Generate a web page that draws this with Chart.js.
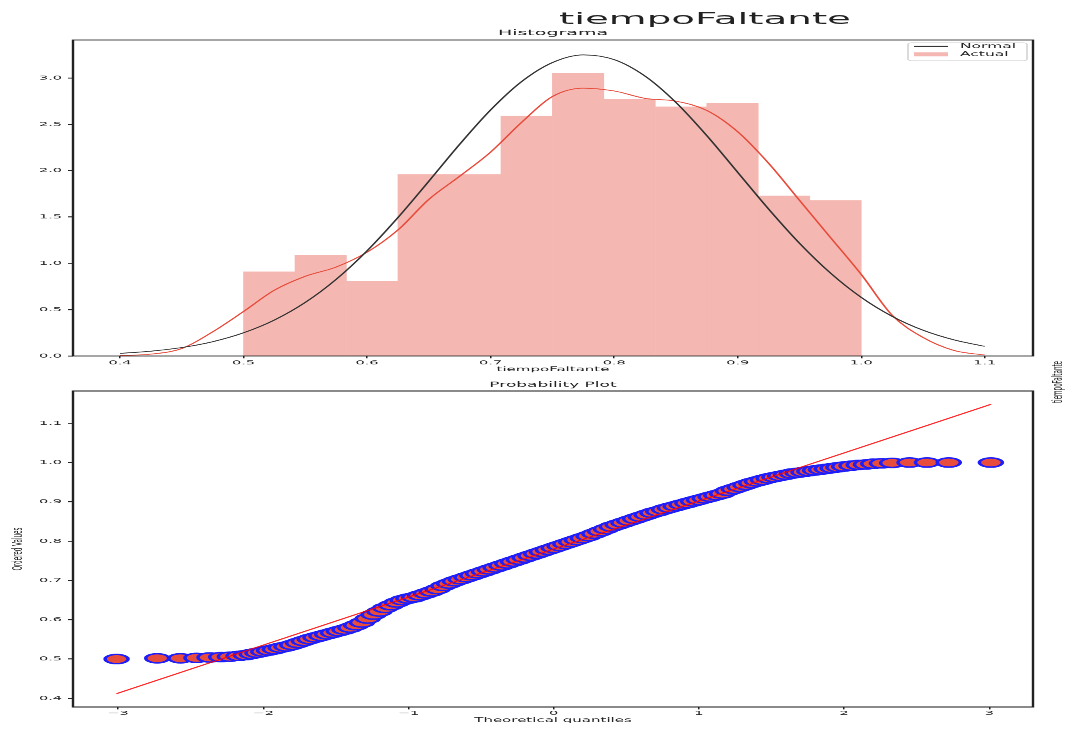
<!DOCTYPE html>
<html lang="es">
<head>
<meta charset="utf-8">
<title>tiempoFaltante</title>
<script src="https://cdn.jsdelivr.net/npm/chart.js@4.4.0/dist/chart.umd.min.js"></script>
<style>
    html, body { margin: 0; padding: 0; background: #fff; overflow: hidden; }
    /* figure is laid out tall and then squashed into the 729px window */
    #figure { position: absolute; left: 0; top: 0; width: 1067px; height: 1823px; transform: scaleY(0.4); transform-origin: 0 0; }
    #figure canvas { position: absolute; left: 0; }
    #hist { top: 0; }
    #qq { top: 950px; }
    .label { position: absolute; font-family: 'DejaVu Sans', sans-serif; color: #222; white-space: nowrap; }
    #suptitle { left: 559px; top: 27px; font-size: 38.8px; line-height: 38px; }
    #sideLabel { left: 992px; top: 946px; width: 130px; height: 18px; line-height: 18px; font-size: 14px; text-align: center; transform: rotate(-90deg); }
</style>
</head>
<body>
<div id="figure">
    <canvas id="hist" width="1067" height="950"></canvas>
    <canvas id="qq" width="1067" height="873"></canvas>
    <div id="suptitle" class="label">tiempoFaltante</div>
    <div id="sideLabel" class="label">tiempoFaltante</div>
</div>
<script>
// Histogram bins (centres of 12 bins from 0.5 to 1.0) and densities
const binCenters = [0.5208, 0.5625, 0.6042, 0.6458, 0.6875, 0.7292, 0.7708, 0.8125, 0.8542, 0.8958, 0.9375, 0.9792];
const binHeights = [0.91, 1.09, 0.81, 1.96, 1.96, 2.59, 3.05, 2.77, 2.69, 2.73, 1.73, 1.68];

// Curves over the histogram
const curveX = [0.400, 0.425, 0.450, 0.475, 0.500, 0.525, 0.550, 0.575, 0.600, 0.625, 0.650, 0.675, 0.700, 0.725, 0.750,
    0.775, 0.800, 0.825, 0.850, 0.875, 0.900, 0.925, 0.950, 0.975, 1.000, 1.025, 1.050, 1.075, 1.100];
const normalY = [0.028, 0.052, 0.091, 0.154, 0.250, 0.388, 0.578, 0.827, 1.135, 1.494, 1.886, 2.285, 2.655, 2.960, 3.166,
    3.249, 3.198, 3.020, 2.736, 2.378, 1.982, 1.586, 1.217, 0.896, 0.632, 0.428, 0.278, 0.174, 0.104];
const kdeY = [0.005, 0.02, 0.08, 0.26, 0.48, 0.71, 0.86, 0.96, 1.12, 1.36, 1.69, 1.94, 2.20, 2.52, 2.80,
    2.89, 2.86, 2.78, 2.75, 2.65, 2.42, 2.08, 1.68, 1.28, 0.88, 0.44, 0.20, 0.06, 0.01];

// Probability plot: theoretical quantiles and ordered values
const qqX = [-3.01, -2.73, -2.57, -2.46, -2.37, -2.29, -2.23, -2.17, -2.12, -2.08, -2.04,
    -2.00, -1.96, -1.92, -1.88, -1.84, -1.80, -1.76, -1.72, -1.68, -1.64, -1.60, -1.56, -1.52, -1.48, -1.44, -1.40,
    -1.36, -1.32, -1.28, -1.24, -1.20, -1.16, -1.12, -1.08, -1.04, -1.00, -0.96, -0.92, -0.88, -0.84, -0.80, -0.76,
    -0.72, -0.68, -0.64, -0.60, -0.56, -0.52, -0.48, -0.44, -0.40, -0.36, -0.32, -0.28, -0.24, -0.20, -0.16, -0.12,
    -0.08, -0.04, 0.00, 0.04, 0.08, 0.12, 0.16, 0.20, 0.24, 0.28, 0.32, 0.36, 0.40, 0.44, 0.48, 0.52, 0.56, 0.60,
    0.64, 0.68, 0.72, 0.76, 0.80, 0.84, 0.88, 0.92, 0.96, 1.00, 1.04, 1.08, 1.12, 1.16, 1.20, 1.24, 1.28, 1.32,
    1.36, 1.40, 1.44, 1.48, 1.52, 1.56, 1.60, 1.64, 1.68, 1.72, 1.76, 1.80, 1.84, 1.88, 1.92, 1.96, 2.00,
    2.05, 2.10, 2.15, 2.20, 2.26, 2.33, 2.45, 2.57, 2.72, 3.01];
const qqY = [0.500, 0.502, 0.502, 0.503, 0.504, 0.505, 0.506, 0.508, 0.510, 0.513, 0.516,
    0.519, 0.522, 0.525, 0.529, 0.532, 0.536, 0.541, 0.546, 0.551, 0.555, 0.559, 0.563, 0.567, 0.571, 0.575, 0.580,
    0.586, 0.593, 0.603, 0.613, 0.621, 0.630, 0.637, 0.644, 0.650, 0.654, 0.657, 0.662, 0.667, 0.672, 0.678, 0.686,
    0.692, 0.698, 0.703, 0.708, 0.713, 0.718, 0.723, 0.728, 0.733, 0.738, 0.743, 0.748, 0.753, 0.758, 0.763, 0.768,
    0.773, 0.778, 0.783, 0.788, 0.793, 0.798, 0.803, 0.808, 0.813, 0.819, 0.825, 0.831, 0.837, 0.842, 0.847, 0.852,
    0.857, 0.862, 0.867, 0.872, 0.876, 0.881, 0.885, 0.889, 0.893, 0.897, 0.901, 0.905, 0.909, 0.913, 0.917, 0.921,
    0.928, 0.933, 0.938, 0.943, 0.948, 0.952, 0.956, 0.960, 0.963, 0.966, 0.969, 0.972, 0.974, 0.976, 0.978, 0.980,
    0.982, 0.984, 0.986, 0.988, 0.990,
    0.992, 0.994, 0.995, 0.997, 0.998, 0.999, 1.000, 1.000, 1.000, 1.000];
const qqLineX = [-3.01, 3.01];
const qqLineY = [0.412, 1.148];

// Tick values
const histXTicks = [0.4, 0.5, 0.6, 0.7, 0.8, 0.9, 1.0, 1.1];
const histYTicks = [0, 0.5, 1.0, 1.5, 2.0, 2.5, 3.0];
const qqXTicks = [-3, -2, -1, 0, 1, 2, 3];
const qqYTicks = [0.4, 0.5, 0.6, 0.7, 0.8, 0.9, 1.0, 1.1];

// 40% alpha red over white, kept opaque so touching bars leave no seams
const BAR_COLOR = '#f5b7b1';
const INK = '#222';

Chart.defaults.font.family = "'DejaVu Sans', sans-serif";
Chart.defaults.color = INK;

function toPoints(xs, ys) {
    return xs.map((x, i) => ({ x: x, y: ys[i] }));
}

function fixedTicks(values) {
    return scale => { scale.ticks = values.map(v => ({ value: v })); };
}

function minusLabel(v) {
    return v < 0 ? '\u2212' + Math.abs(v) : String(v);
}

// box around the plot area, like matplotlib spines
const framePlugin = {
    id: 'frame',
    afterDatasetsDraw(chart) {
        const { ctx, chartArea: a } = chart;
        ctx.save();
        ctx.strokeStyle = INK;
        ctx.lineWidth = 2.4;
        ctx.strokeRect(a.left, a.top, a.right - a.left, a.bottom - a.top);
        ctx.restore();
    }
};

// legend box in the upper right corner of the histogram
const boxLegendPlugin = {
    id: 'boxLegend',
    afterDraw(chart) {
        const { ctx, chartArea: a } = chart;
        const normal = chart.data.datasets[0];
        const actual = chart.data.datasets[2];
        const left = a.right - 125, top = a.top + 7, w = 119, h = 45;
        ctx.save();
        ctx.fillStyle = 'rgba(255,255,255,0.8)';
        ctx.strokeStyle = '#d0d0d0';
        ctx.lineWidth = 1.5;
        ctx.beginPath();
        ctx.roundRect(left, top, w, h, 4);
        ctx.fill();
        ctx.stroke();

        const rowY = [top + 9, top + 29];
        ctx.strokeStyle = normal.borderColor;
        ctx.lineWidth = 2.5;
        ctx.beginPath();
        ctx.moveTo(left + 6, rowY[0]);
        ctx.lineTo(left + 40, rowY[0]);
        ctx.stroke();
        ctx.fillStyle = actual.backgroundColor;
        ctx.fillRect(left + 6, rowY[1] - 5, 34, 10);

        ctx.fillStyle = INK;
        ctx.font = "15.5px 'DejaVu Sans', sans-serif";
        ctx.textBaseline = 'middle';
        ctx.fillText(normal.label, left + 52, rowY[0]);
        ctx.fillText(actual.label, left + 52, rowY[1]);
        ctx.restore();
    }
};

function axisStyle(isX) {
    return {
        grid: { display: true, drawOnChartArea: false, offset: false, tickLength: isX ? 6 : 5, color: INK, lineWidth: isX ? 1.5 : 2.4 },
        border: { display: false }
    };
}

// Histogram + normal + KDE
function createHistogram() {
    new Chart(document.getElementById('hist'), {
        type: 'bar',
        data: {
            datasets: [
                {
                    type: 'line', label: 'Normal', data: toPoints(curveX, normalY),
                    borderColor: '#333', borderWidth: 2, pointRadius: 0,
                    cubicInterpolationMode: 'monotone', order: 0
                },
                {
                    type: 'line', label: 'KDE', data: toPoints(curveX, kdeY),
                    borderColor: '#e74c3c', borderWidth: 2, pointRadius: 0,
                    cubicInterpolationMode: 'monotone', order: 1
                },
                {
                    type: 'bar', label: 'Actual', data: toPoints(binCenters, binHeights),
                    backgroundColor: BAR_COLOR, borderWidth: 0,
                    barPercentage: 1, categoryPercentage: 1, order: 2
                }
            ]
        },
        options: {
            responsive: false,
            animation: false,
            events: [],
            layout: { padding: { left: 0, right: 34, top: 0, bottom: 0 } },
            plugins: {
                legend: { display: false },
                tooltip: { enabled: false },
                title: {
                    display: true, text: 'Histograma', color: INK, fullSize: false,
                    font: { size: 19, weight: 'normal' }, padding: { top: 72, bottom: 5.2 }
                }
            },
            scales: {
                x: {
                    type: 'linear', min: 0.362, max: 1.139, offset: false,
                    afterBuildTicks: fixedTicks(histXTicks),
                    afterFit: s => { s.height = 60; },
                    ticks: { callback: v => v.toFixed(1), font: { size: 14.5 }, padding: 3, maxRotation: 0, autoSkip: false },
                    title: { display: true, text: 'tiempoFaltante', font: { size: 15 }, padding: { top: 0, bottom: 17 } },
                    ...axisStyle(true)
                },
                y: {
                    type: 'linear', min: 0, max: 3.41,
                    afterBuildTicks: fixedTicks(histYTicks),
                    afterFit: s => { s.width = 73; },
                    ticks: { callback: v => v.toFixed(1), font: { size: 14.5 }, padding: 6, autoSkip: false },
                    ...axisStyle(false)
                }
            }
        },
        plugins: [framePlugin, boxLegendPlugin]
    });
}

// Probability plot
function createProbabilityPlot() {
    new Chart(document.getElementById('qq'), {
        type: 'scatter',
        data: {
            datasets: [
                {
                    type: 'line', label: 'fit', data: toPoints(qqLineX, qqLineY),
                    borderColor: 'rgba(255, 0, 0, 0.85)', borderWidth: 2.5, pointRadius: 0, order: 0
                },
                {
                    label: 'tiempoFaltante', data: toPoints(qqX, qqY),
                    pointRadius: 11.5, pointBackgroundColor: '#e74c3c',
                    pointBorderColor: 'rgb(30, 30, 250)', pointBorderWidth: 3.5, order: 1
                }
            ]
        },
        options: {
            responsive: false,
            animation: false,
            events: [],
            layout: { padding: { left: 0, right: 34, top: 0, bottom: 0 } },
            plugins: {
                legend: { display: false },
                tooltip: { enabled: false },
                title: {
                    display: true, text: 'Probability Plot', color: INK, fullSize: false,
                    font: { size: 17, weight: 'normal' }, padding: { top: 2.6, bottom: 4.5 }
                }
            },
            scales: {
                x: {
                    type: 'linear', min: -3.31, max: 3.30,
                    afterBuildTicks: fixedTicks(qqXTicks),
                    afterFit: s => { s.height = 55.5; },
                    ticks: { callback: minusLabel, font: { size: 14.5 }, padding: 1, maxRotation: 0, autoSkip: false },
                    title: { display: true, text: 'Theoretical quantiles', font: { size: 15 }, padding: { top: 0, bottom: 13 } },
                    ...axisStyle(true)
                },
                y: {
                    type: 'linear', min: 0.378, max: 1.182,
                    afterBuildTicks: fixedTicks(qqYTicks),
                    afterFit: s => { s.width = 73; },
                    ticks: { callback: v => v.toFixed(1), font: { size: 14.5 }, padding: 6, autoSkip: false },
                    title: { display: true, text: 'Ordered Values', font: { size: 14 }, padding: { top: 10, bottom: 0 } },
                    ...axisStyle(false)
                }
            }
        },
        plugins: [framePlugin]
    });
}

createHistogram();
createProbabilityPlot();
</script>
</body>
</html>
